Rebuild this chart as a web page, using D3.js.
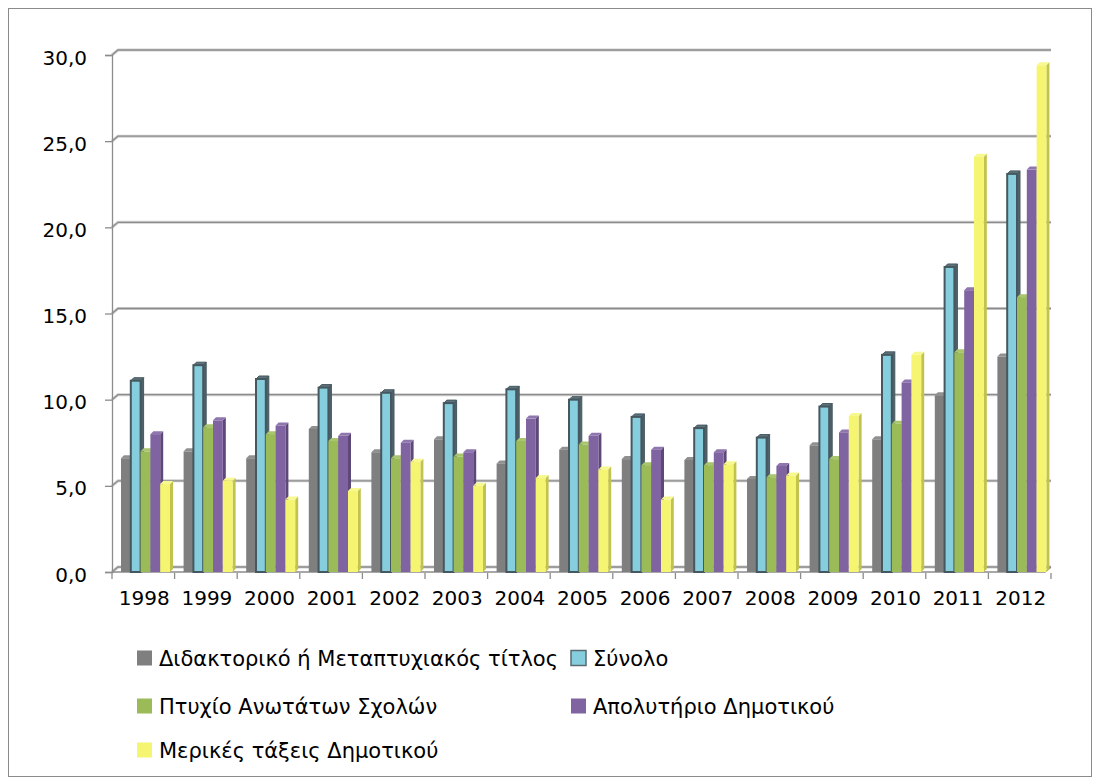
<!DOCTYPE html>
<html>
<head>
<meta charset="utf-8">
<script src="https://cdn.jsdelivr.net/npm/d3@7"></script>
<style>
  body { margin: 0; background: #fff; }
  text { font-family: "DejaVu Sans", sans-serif; fill: #000; }
</style>
</head>
<body>
<svg></svg>
<script>
const width = 1100;
const height = 784;

const years = ['1998', '1999', '2000', '2001', '2002', '2003', '2004', '2005',
  '2006', '2007', '2008', '2009', '2010', '2011', '2012'];
const seriesNames = ['Διδακτορικό ή Μεταπτυχιακός τίτλος', 'Σύνολο',
  'Πτυχίο Ανωτάτων Σχολών', 'Απολυτήριο Δημοτικού', 'Μερικές τάξεις Δημοτικού'];
const doctorate = [6.6, 7.0, 6.6, 8.3, 6.95, 7.7, 6.3, 7.1, 6.55, 6.5, 5.4, 7.35, 7.7, 10.25, 12.5];
const total = [11.1, 12.0, 11.2, 10.7, 10.4, 9.8, 10.6, 10.0, 9.0, 8.35, 7.8, 9.6, 12.6, 17.7, 23.1];
const degree = [7.0, 8.4, 8.0, 7.6, 6.6, 6.7, 7.6, 7.4, 6.2, 6.2, 5.5, 6.55, 8.6, 12.75, 15.95];
const primary = [8.0, 8.8, 8.5, 7.9, 7.5, 6.95, 8.9, 7.9, 7.1, 6.95, 6.15, 8.1, 11.0, 16.35, 23.35];
const somePrimary = [5.1, 5.3, 4.2, 4.7, 6.4, 5.0, 5.45, 5.95, 4.2, 6.25, 5.6, 9.05, 12.6, 24.1, 29.4];
const yTicks = [0, 5, 10, 15, 20, 25, 30];

const seriesValues = [doctorate, total, degree, primary, somePrimary];
// front, side, top, stroke
const palette = [
  { front: '#7f7f7f', side: '#5e5e5e', top: '#909090', stroke: 'none' },
  { front: '#86cddd', side: '#4e626b', top: '#5f737c', stroke: '#46585f' },
  { front: '#9bbb59', side: '#718a3f', top: '#a9c56d', stroke: 'none' },
  { front: '#8064a2', side: '#5d4878', top: '#8f76ae', stroke: 'none' },
  { front: '#f5f571', side: '#c2c24f', top: '#f8f890', stroke: 'none' }
];

const plotLeft = 112, plotRight = 1051, plotBottom = 572, plotTop = 55;
const wallDx = 6, wallDy = -5;
const barDx = 3, barDy = -3;
const fontSize = '20px';

const svg = d3.select('svg')
  .attr('width', width)
  .attr('height', height);

svg.append('rect')
  .attr('x', 8.5).attr('y', 8.5)
  .attr('width', 1083).attr('height', 768)
  .attr('fill', '#fff')
  .attr('stroke', '#8a8a8a');

const x0 = d3.scaleBand()
  .domain(years)
  .range([plotLeft, plotRight]);

const x1 = d3.scaleBand()
  .domain(seriesNames)
  .range([9, 58]);

const yScale = d3.scaleLinear()
  .domain([0, 30])
  .range([plotBottom, plotTop]);

// back wall gridlines
const grid = svg.append('g');
yTicks.forEach(t => {
  const y = yScale(t);
  const d = `M${plotLeft},${y} L${plotLeft + wallDx},${y + wallDy} L${plotRight - 6 + wallDx},${y + wallDy}`;
  grid.append('path')
    .attr('d', d)
    .attr('fill', 'none')
    .attr('stroke', '#d0d0d0')
    .attr('stroke-width', 3);
  grid.append('path')
    .attr('d', d)
    .attr('fill', 'none')
    .attr('stroke', '#8c8c8c')
    .attr('stroke-width', 1.3);
});

// floor front edge
svg.append('path')
  .attr('d', `M${plotLeft},${plotBottom} L${plotRight - 6},${plotBottom} L${plotRight - 6 + wallDx},${plotBottom + wallDy}`)
  .attr('fill', 'none')
  .attr('stroke', '#8c8c8c')
  .attr('stroke-width', 1.3);

// y axis
const yAxis = d3.axisLeft(yScale)
  .tickValues(yTicks)
  .tickSize(7)
  .tickPadding(18)
  .tickFormat(d => d3.format('.1f')(d).replace('.', ','));

const yG = svg.append('g')
  .attr('transform', 'translate(' + plotLeft + ',0)')
  .call(yAxis);
yG.select('.domain').attr('stroke', '#8c8c8c').attr('stroke-width', 1.3);
yG.selectAll('.tick line').attr('stroke', '#8c8c8c').attr('stroke-width', 1.3);
yG.selectAll('.tick text')
  .attr('dy', '0.45em')
  .style('font-size', fontSize)
  .style('font-family', '"DejaVu Sans", sans-serif');

// x axis
const xAxis = d3.axisBottom(x0)
  .tickSize(0)
  .tickPadding(26);
const xG = svg.append('g')
  .attr('transform', 'translate(1,' + plotBottom + ')')
  .call(xAxis);
xG.select('.domain').remove();
xG.selectAll('.tick text')
  .attr('dy', '0.35em')
  .style('font-size', fontSize)
  .style('font-family', '"DejaVu Sans", sans-serif');

// category separators under the floor
svg.append('g')
  .selectAll('line')
  .data(years.concat(['end']))
  .enter()
  .append('line')
  .attr('x1', (d, i) => plotLeft + i * x0.step())
  .attr('x2', (d, i) => plotLeft + i * x0.step())
  .attr('y1', plotBottom + 1)
  .attr('y2', plotBottom + 7)
  .attr('stroke', '#8c8c8c')
  .attr('stroke-width', 1.3);

// 3D bars
const bars = [];
years.forEach((yr, i) => {
  seriesNames.forEach((s, j) => {
    bars.push({ year: yr, series: s, idx: j, value: seriesValues[j][i] });
  });
});

const bw = x1.bandwidth();
const barG = svg.append('g')
  .selectAll('g')
  .data(bars)
  .enter()
  .append('g')
  .attr('transform', d => 'translate(' + (x0(d.year) + x1(d.series)) + ',0)');

barG.append('path')
  .attr('d', d => {
    const yt = yScale(d.value);
    return `M${bw},${yt} L${bw + barDx},${yt + barDy} L${bw + barDx},${plotBottom + barDy} L${bw},${plotBottom} Z`;
  })
  .attr('fill', d => palette[d.idx].side)
  .attr('stroke', d => palette[d.idx].stroke)
  .attr('stroke-width', 1);

barG.append('path')
  .attr('d', d => {
    const yt = yScale(d.value);
    return `M0,${yt} L${barDx},${yt + barDy} L${bw + barDx},${yt + barDy} L${bw},${yt} Z`;
  })
  .attr('fill', d => palette[d.idx].top)
  .attr('stroke', d => palette[d.idx].stroke)
  .attr('stroke-width', 1);

barG.append('rect')
  .attr('x', 0)
  .attr('y', d => yScale(d.value))
  .attr('width', bw)
  .attr('height', d => plotBottom - yScale(d.value))
  .attr('fill', d => palette[d.idx].front)
  .attr('stroke', d => palette[d.idx].stroke)
  .attr('stroke-width', d => d.idx === 1 ? 2 : 0);

// legend
const legendPos = [[137, 658], [571, 658], [137, 706], [571, 706], [137, 750]];
const legend = svg.append('g')
  .selectAll('g')
  .data(seriesNames)
  .enter()
  .append('g')
  .attr('transform', (d, i) => 'translate(' + legendPos[i][0] + ',' + legendPos[i][1] + ')');

legend.append('rect')
  .attr('x', 0)
  .attr('y', -7.5)
  .attr('width', 15)
  .attr('height', 15)
  .attr('fill', (d, i) => palette[i].front)
  .attr('stroke', (d, i) => i === 1 ? '#5a6a70' : 'none')
  .attr('stroke-width', 1.5);

legend.append('text')
  .attr('x', 22)
  .attr('y', 0)
  .attr('dy', '0.36em')
  .style('font-size', '21px')
  .text(d => d);
</script>
</body>
</html>
